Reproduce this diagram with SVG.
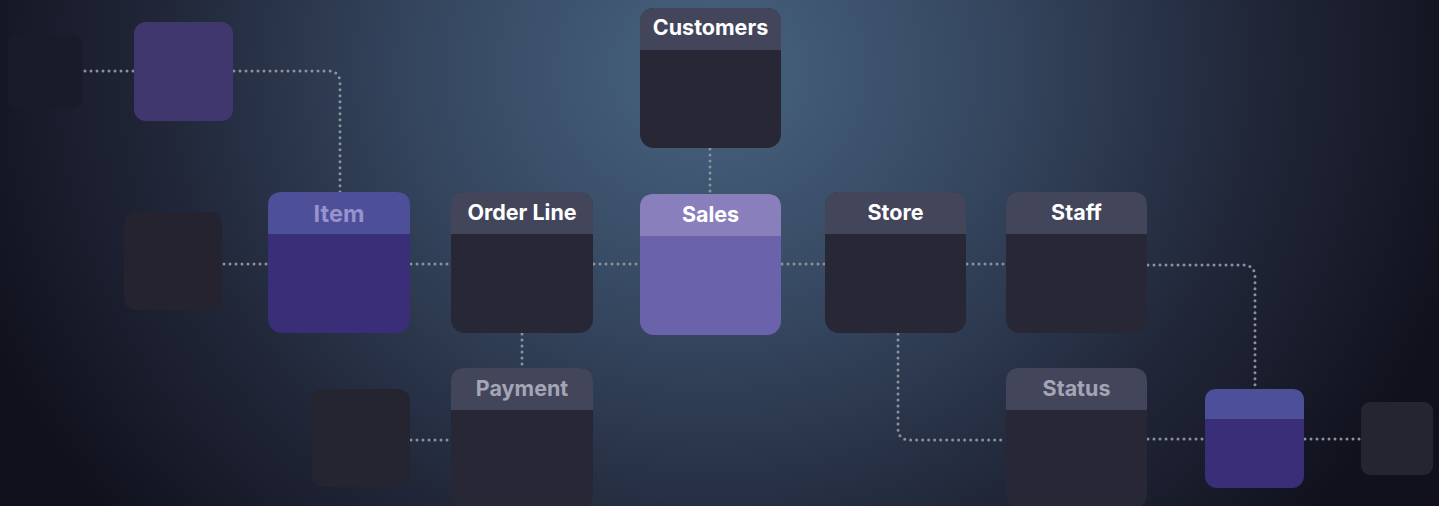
<svg xmlns="http://www.w3.org/2000/svg" width="1439" height="506" viewBox="0 0 1439 506">
<defs>
<radialGradient id="bg" gradientUnits="userSpaceOnUse" cx="710" cy="70" r="780" gradientTransform="translate(710 70) scale(1 0.9) translate(-710 -70)">
<stop offset="0" stop-color="#47637f"/>
<stop offset="0.35" stop-color="#364861"/>
<stop offset="0.7" stop-color="#212739"/>
<stop offset="1" stop-color="#11111d"/>
</radialGradient>
<style>
.conn{fill:none;stroke:#8d919c;stroke-width:3;stroke-linecap:round;stroke-dasharray:0 6}
.t{font-family:Inter,"Liberation Sans",sans-serif;font-weight:700;font-size:21.5px;text-anchor:middle;fill:#ffffff}
.dim{fill:#a3a5b6}
.dimp{fill:#9892cd;font-size:23.5px}
.hd{fill:#43455b}
.bd{fill:#272735}
.phd{fill:#4d4f99}
.pbd{fill:#3a2e78}
</style>
</defs>
<rect width="1439" height="506" fill="url(#bg)"/>
<g id="connectors">
<path class="conn" d="M85 71H134"/>
<path class="conn" d="M234 71H328Q340 71 340 83V192"/>
<path class="conn" d="M224 264H268"/>
<path class="conn" d="M411 264H451"/>
<path class="conn" d="M594 264H640"/>
<path class="conn" d="M782 264H825"/>
<path class="conn" d="M967 264H1006"/>
<path class="conn" d="M1148 265H1243Q1255 265 1255 277V389"/>
<path class="conn" d="M710 149V194"/>
<path class="conn" d="M522 334V368"/>
<path class="conn" d="M411 440H451"/>
<path class="conn" d="M898 334V428Q898 440 910 440H1006"/>
<path class="conn" d="M1148 439H1205"/>
<path class="conn" d="M1305 439H1361"/>
</g>
<g id="ghost-far-left"><rect x="8" y="35" width="74" height="73" rx="9" fill="#1a1b29"/></g>
<g id="purple-top"><rect x="134" y="22" width="99" height="99" rx="12" fill="#40376e"/></g>
<g id="ghost-left"><rect x="124" y="212" width="98" height="98" rx="12" fill="#252330"/></g>
<g id="ghost-payment-left"><rect x="312" y="389" width="98" height="98" rx="12" fill="#252431"/></g>
<g id="ghost-far-right"><rect x="1361" y="402" width="72" height="73" rx="9" fill="#252431"/></g>
<g id="item">
<rect x="268" y="192" width="142" height="141" rx="14" class="pbd"/>
<path d="M268 234V206Q268 192 282 192H396Q410 192 410 206V234Z" class="phd"/>
<text x="339" y="222" class="t dimp">Item</text>
</g>
<g id="order-line">
<rect x="451" y="192" width="142" height="141" rx="14" class="bd"/>
<path d="M451 234V206Q451 192 465 192H579Q593 192 593 206V234Z" class="hd"/>
<text x="522" y="220" class="t">Order Line</text>
</g>
<g id="customers">
<rect x="640" y="8" width="141" height="140" rx="14" class="bd"/>
<path d="M640 50V22Q640 8 654 8H767Q781 8 781 22V50Z" class="hd"/>
<text x="710.5" y="35" class="t">Customers</text>
</g>
<g id="sales">
<rect x="640" y="194" width="141" height="141" rx="14" fill="#6a63ac"/>
<path d="M640 236V208Q640 194 654 194H767Q781 194 781 208V236Z" fill="#8a7fbd"/>
<text x="710.5" y="222" class="t">Sales</text>
</g>
<g id="store">
<rect x="825" y="192" width="141" height="141" rx="14" class="bd"/>
<path d="M825 234V206Q825 192 839 192H952Q966 192 966 206V234Z" class="hd"/>
<text x="895.5" y="220" class="t">Store</text>
</g>
<g id="staff">
<rect x="1006" y="192" width="141" height="141" rx="14" class="bd"/>
<path d="M1006 234V206Q1006 192 1020 192H1133Q1147 192 1147 206V234Z" class="hd"/>
<text x="1076.5" y="220" class="t">Staff</text>
</g>
<g id="payment">
<rect x="451" y="368" width="142" height="141" rx="14" class="bd"/>
<path d="M451 410V382Q451 368 465 368H579Q593 368 593 382V410Z" class="hd"/>
<text x="522" y="396" class="t dim">Payment</text>
</g>
<g id="status">
<rect x="1006" y="368" width="141" height="141" rx="14" class="bd"/>
<path d="M1006 410V382Q1006 368 1020 368H1133Q1147 368 1147 382V410Z" class="hd"/>
<text x="1076.5" y="396" class="t dim">Status</text>
</g>
<g id="purple-right">
<rect x="1205" y="389" width="99" height="99" rx="12" class="pbd"/>
<path d="M1205 419V401Q1205 389 1217 389H1292Q1304 389 1304 401V419Z" class="phd"/>
</g>
</svg>
